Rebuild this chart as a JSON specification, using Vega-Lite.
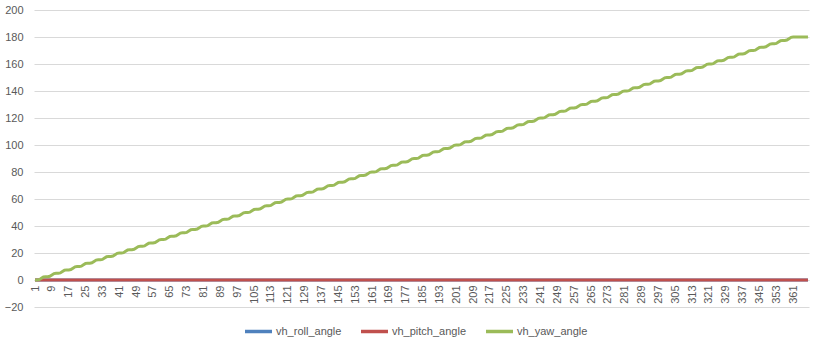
{
"$schema":"https://vega.github.io/schema/vega-lite/v6.json",
"width":775,"height":297,
"autosize":{"type":"none"},
"padding":{"left":34,"top":10,"right":8,"bottom":39},
"background":"white",
"config":{"view":{"stroke":null},"font":"Liberation Sans"},
"data":{"values":[
{"i":1,"r":0,"p":0,"y":0},
{"i":2,"r":0,"p":0,"y":0},{"i":3,"r":0,"p":0,"y":0.25},{"i":4,"r":0,"p":0,"y":1.25},{"i":5,"r":0,"p":0,"y":2.25},{"i":6,"r":0,"p":0,"y":2.5},
{"i":7,"r":0,"p":0,"y":2.5},{"i":8,"r":0,"p":0,"y":2.75},{"i":9,"r":0,"p":0,"y":3.75},{"i":10,"r":0,"p":0,"y":4.75},{"i":11,"r":0,"p":0,"y":5},
{"i":12,"r":0,"p":0,"y":5},{"i":13,"r":0,"p":0,"y":5.25},{"i":14,"r":0,"p":0,"y":6.25},{"i":15,"r":0,"p":0,"y":7.25},{"i":16,"r":0,"p":0,"y":7.5},
{"i":17,"r":0,"p":0,"y":7.5},{"i":18,"r":0,"p":0,"y":7.75},{"i":19,"r":0,"p":0,"y":8.75},{"i":20,"r":0,"p":0,"y":9.75},{"i":21,"r":0,"p":0,"y":10},
{"i":22,"r":0,"p":0,"y":10},{"i":23,"r":0,"p":0,"y":10.25},{"i":24,"r":0,"p":0,"y":11.25},{"i":25,"r":0,"p":0,"y":12.25},{"i":26,"r":0,"p":0,"y":12.5},
{"i":27,"r":0,"p":0,"y":12.5},{"i":28,"r":0,"p":0,"y":12.75},{"i":29,"r":0,"p":0,"y":13.75},{"i":30,"r":0,"p":0,"y":14.75},{"i":31,"r":0,"p":0,"y":15},
{"i":32,"r":0,"p":0,"y":15},{"i":33,"r":0,"p":0,"y":15.25},{"i":34,"r":0,"p":0,"y":16.25},{"i":35,"r":0,"p":0,"y":17.25},{"i":36,"r":0,"p":0,"y":17.5},
{"i":37,"r":0,"p":0,"y":17.5},{"i":38,"r":0,"p":0,"y":17.75},{"i":39,"r":0,"p":0,"y":18.75},{"i":40,"r":0,"p":0,"y":19.75},{"i":41,"r":0,"p":0,"y":20},
{"i":42,"r":0,"p":0,"y":20},{"i":43,"r":0,"p":0,"y":20.25},{"i":44,"r":0,"p":0,"y":21.25},{"i":45,"r":0,"p":0,"y":22.25},{"i":46,"r":0,"p":0,"y":22.5},
{"i":47,"r":0,"p":0,"y":22.5},{"i":48,"r":0,"p":0,"y":22.75},{"i":49,"r":0,"p":0,"y":23.75},{"i":50,"r":0,"p":0,"y":24.75},{"i":51,"r":0,"p":0,"y":25},
{"i":52,"r":0,"p":0,"y":25},{"i":53,"r":0,"p":0,"y":25.25},{"i":54,"r":0,"p":0,"y":26.25},{"i":55,"r":0,"p":0,"y":27.25},{"i":56,"r":0,"p":0,"y":27.5},
{"i":57,"r":0,"p":0,"y":27.5},{"i":58,"r":0,"p":0,"y":27.75},{"i":59,"r":0,"p":0,"y":28.75},{"i":60,"r":0,"p":0,"y":29.75},{"i":61,"r":0,"p":0,"y":30},
{"i":62,"r":0,"p":0,"y":30},{"i":63,"r":0,"p":0,"y":30.25},{"i":64,"r":0,"p":0,"y":31.25},{"i":65,"r":0,"p":0,"y":32.25},{"i":66,"r":0,"p":0,"y":32.5},
{"i":67,"r":0,"p":0,"y":32.5},{"i":68,"r":0,"p":0,"y":32.75},{"i":69,"r":0,"p":0,"y":33.75},{"i":70,"r":0,"p":0,"y":34.75},{"i":71,"r":0,"p":0,"y":35},
{"i":72,"r":0,"p":0,"y":35},{"i":73,"r":0,"p":0,"y":35.25},{"i":74,"r":0,"p":0,"y":36.25},{"i":75,"r":0,"p":0,"y":37.25},{"i":76,"r":0,"p":0,"y":37.5},
{"i":77,"r":0,"p":0,"y":37.5},{"i":78,"r":0,"p":0,"y":37.75},{"i":79,"r":0,"p":0,"y":38.75},{"i":80,"r":0,"p":0,"y":39.75},{"i":81,"r":0,"p":0,"y":40},
{"i":82,"r":0,"p":0,"y":40},{"i":83,"r":0,"p":0,"y":40.25},{"i":84,"r":0,"p":0,"y":41.25},{"i":85,"r":0,"p":0,"y":42.25},{"i":86,"r":0,"p":0,"y":42.5},
{"i":87,"r":0,"p":0,"y":42.5},{"i":88,"r":0,"p":0,"y":42.75},{"i":89,"r":0,"p":0,"y":43.75},{"i":90,"r":0,"p":0,"y":44.75},{"i":91,"r":0,"p":0,"y":45},
{"i":92,"r":0,"p":0,"y":45},{"i":93,"r":0,"p":0,"y":45.25},{"i":94,"r":0,"p":0,"y":46.25},{"i":95,"r":0,"p":0,"y":47.25},{"i":96,"r":0,"p":0,"y":47.5},
{"i":97,"r":0,"p":0,"y":47.5},{"i":98,"r":0,"p":0,"y":47.75},{"i":99,"r":0,"p":0,"y":48.75},{"i":100,"r":0,"p":0,"y":49.75},{"i":101,"r":0,"p":0,"y":50},
{"i":102,"r":0,"p":0,"y":50},{"i":103,"r":0,"p":0,"y":50.25},{"i":104,"r":0,"p":0,"y":51.25},{"i":105,"r":0,"p":0,"y":52.25},{"i":106,"r":0,"p":0,"y":52.5},
{"i":107,"r":0,"p":0,"y":52.5},{"i":108,"r":0,"p":0,"y":52.75},{"i":109,"r":0,"p":0,"y":53.75},{"i":110,"r":0,"p":0,"y":54.75},{"i":111,"r":0,"p":0,"y":55},
{"i":112,"r":0,"p":0,"y":55},{"i":113,"r":0,"p":0,"y":55.25},{"i":114,"r":0,"p":0,"y":56.25},{"i":115,"r":0,"p":0,"y":57.25},{"i":116,"r":0,"p":0,"y":57.5},
{"i":117,"r":0,"p":0,"y":57.5},{"i":118,"r":0,"p":0,"y":57.75},{"i":119,"r":0,"p":0,"y":58.75},{"i":120,"r":0,"p":0,"y":59.75},{"i":121,"r":0,"p":0,"y":60},
{"i":122,"r":0,"p":0,"y":60},{"i":123,"r":0,"p":0,"y":60.25},{"i":124,"r":0,"p":0,"y":61.25},{"i":125,"r":0,"p":0,"y":62.25},{"i":126,"r":0,"p":0,"y":62.5},
{"i":127,"r":0,"p":0,"y":62.5},{"i":128,"r":0,"p":0,"y":62.75},{"i":129,"r":0,"p":0,"y":63.75},{"i":130,"r":0,"p":0,"y":64.75},{"i":131,"r":0,"p":0,"y":65},
{"i":132,"r":0,"p":0,"y":65},{"i":133,"r":0,"p":0,"y":65.25},{"i":134,"r":0,"p":0,"y":66.25},{"i":135,"r":0,"p":0,"y":67.25},{"i":136,"r":0,"p":0,"y":67.5},
{"i":137,"r":0,"p":0,"y":67.5},{"i":138,"r":0,"p":0,"y":67.75},{"i":139,"r":0,"p":0,"y":68.75},{"i":140,"r":0,"p":0,"y":69.75},{"i":141,"r":0,"p":0,"y":70},
{"i":142,"r":0,"p":0,"y":70},{"i":143,"r":0,"p":0,"y":70.25},{"i":144,"r":0,"p":0,"y":71.25},{"i":145,"r":0,"p":0,"y":72.25},{"i":146,"r":0,"p":0,"y":72.5},
{"i":147,"r":0,"p":0,"y":72.5},{"i":148,"r":0,"p":0,"y":72.75},{"i":149,"r":0,"p":0,"y":73.75},{"i":150,"r":0,"p":0,"y":74.75},{"i":151,"r":0,"p":0,"y":75},
{"i":152,"r":0,"p":0,"y":75},{"i":153,"r":0,"p":0,"y":75.25},{"i":154,"r":0,"p":0,"y":76.25},{"i":155,"r":0,"p":0,"y":77.25},{"i":156,"r":0,"p":0,"y":77.5},
{"i":157,"r":0,"p":0,"y":77.5},{"i":158,"r":0,"p":0,"y":77.75},{"i":159,"r":0,"p":0,"y":78.75},{"i":160,"r":0,"p":0,"y":79.75},{"i":161,"r":0,"p":0,"y":80},
{"i":162,"r":0,"p":0,"y":80},{"i":163,"r":0,"p":0,"y":80.25},{"i":164,"r":0,"p":0,"y":81.25},{"i":165,"r":0,"p":0,"y":82.25},{"i":166,"r":0,"p":0,"y":82.5},
{"i":167,"r":0,"p":0,"y":82.5},{"i":168,"r":0,"p":0,"y":82.75},{"i":169,"r":0,"p":0,"y":83.75},{"i":170,"r":0,"p":0,"y":84.75},{"i":171,"r":0,"p":0,"y":85},
{"i":172,"r":0,"p":0,"y":85},{"i":173,"r":0,"p":0,"y":85.25},{"i":174,"r":0,"p":0,"y":86.25},{"i":175,"r":0,"p":0,"y":87.25},{"i":176,"r":0,"p":0,"y":87.5},
{"i":177,"r":0,"p":0,"y":87.5},{"i":178,"r":0,"p":0,"y":87.75},{"i":179,"r":0,"p":0,"y":88.75},{"i":180,"r":0,"p":0,"y":89.75},{"i":181,"r":0,"p":0,"y":90},
{"i":182,"r":0,"p":0,"y":90},{"i":183,"r":0,"p":0,"y":90.25},{"i":184,"r":0,"p":0,"y":91.25},{"i":185,"r":0,"p":0,"y":92.25},{"i":186,"r":0,"p":0,"y":92.5},
{"i":187,"r":0,"p":0,"y":92.5},{"i":188,"r":0,"p":0,"y":92.75},{"i":189,"r":0,"p":0,"y":93.75},{"i":190,"r":0,"p":0,"y":94.75},{"i":191,"r":0,"p":0,"y":95},
{"i":192,"r":0,"p":0,"y":95},{"i":193,"r":0,"p":0,"y":95.25},{"i":194,"r":0,"p":0,"y":96.25},{"i":195,"r":0,"p":0,"y":97.25},{"i":196,"r":0,"p":0,"y":97.5},
{"i":197,"r":0,"p":0,"y":97.5},{"i":198,"r":0,"p":0,"y":97.75},{"i":199,"r":0,"p":0,"y":98.75},{"i":200,"r":0,"p":0,"y":99.75},{"i":201,"r":0,"p":0,"y":100},
{"i":202,"r":0,"p":0,"y":100},{"i":203,"r":0,"p":0,"y":100.25},{"i":204,"r":0,"p":0,"y":101.25},{"i":205,"r":0,"p":0,"y":102.25},{"i":206,"r":0,"p":0,"y":102.5},
{"i":207,"r":0,"p":0,"y":102.5},{"i":208,"r":0,"p":0,"y":102.75},{"i":209,"r":0,"p":0,"y":103.75},{"i":210,"r":0,"p":0,"y":104.75},{"i":211,"r":0,"p":0,"y":105},
{"i":212,"r":0,"p":0,"y":105},{"i":213,"r":0,"p":0,"y":105.25},{"i":214,"r":0,"p":0,"y":106.25},{"i":215,"r":0,"p":0,"y":107.25},{"i":216,"r":0,"p":0,"y":107.5},
{"i":217,"r":0,"p":0,"y":107.5},{"i":218,"r":0,"p":0,"y":107.75},{"i":219,"r":0,"p":0,"y":108.75},{"i":220,"r":0,"p":0,"y":109.75},{"i":221,"r":0,"p":0,"y":110},
{"i":222,"r":0,"p":0,"y":110},{"i":223,"r":0,"p":0,"y":110.25},{"i":224,"r":0,"p":0,"y":111.25},{"i":225,"r":0,"p":0,"y":112.25},{"i":226,"r":0,"p":0,"y":112.5},
{"i":227,"r":0,"p":0,"y":112.5},{"i":228,"r":0,"p":0,"y":112.75},{"i":229,"r":0,"p":0,"y":113.75},{"i":230,"r":0,"p":0,"y":114.75},{"i":231,"r":0,"p":0,"y":115},
{"i":232,"r":0,"p":0,"y":115},{"i":233,"r":0,"p":0,"y":115.25},{"i":234,"r":0,"p":0,"y":116.25},{"i":235,"r":0,"p":0,"y":117.25},{"i":236,"r":0,"p":0,"y":117.5},
{"i":237,"r":0,"p":0,"y":117.5},{"i":238,"r":0,"p":0,"y":117.75},{"i":239,"r":0,"p":0,"y":118.75},{"i":240,"r":0,"p":0,"y":119.75},{"i":241,"r":0,"p":0,"y":120},
{"i":242,"r":0,"p":0,"y":120},{"i":243,"r":0,"p":0,"y":120.25},{"i":244,"r":0,"p":0,"y":121.25},{"i":245,"r":0,"p":0,"y":122.25},{"i":246,"r":0,"p":0,"y":122.5},
{"i":247,"r":0,"p":0,"y":122.5},{"i":248,"r":0,"p":0,"y":122.75},{"i":249,"r":0,"p":0,"y":123.75},{"i":250,"r":0,"p":0,"y":124.75},{"i":251,"r":0,"p":0,"y":125},
{"i":252,"r":0,"p":0,"y":125},{"i":253,"r":0,"p":0,"y":125.25},{"i":254,"r":0,"p":0,"y":126.25},{"i":255,"r":0,"p":0,"y":127.25},{"i":256,"r":0,"p":0,"y":127.5},
{"i":257,"r":0,"p":0,"y":127.5},{"i":258,"r":0,"p":0,"y":127.75},{"i":259,"r":0,"p":0,"y":128.75},{"i":260,"r":0,"p":0,"y":129.75},{"i":261,"r":0,"p":0,"y":130},
{"i":262,"r":0,"p":0,"y":130},{"i":263,"r":0,"p":0,"y":130.25},{"i":264,"r":0,"p":0,"y":131.25},{"i":265,"r":0,"p":0,"y":132.25},{"i":266,"r":0,"p":0,"y":132.5},
{"i":267,"r":0,"p":0,"y":132.5},{"i":268,"r":0,"p":0,"y":132.75},{"i":269,"r":0,"p":0,"y":133.75},{"i":270,"r":0,"p":0,"y":134.75},{"i":271,"r":0,"p":0,"y":135},
{"i":272,"r":0,"p":0,"y":135},{"i":273,"r":0,"p":0,"y":135.25},{"i":274,"r":0,"p":0,"y":136.25},{"i":275,"r":0,"p":0,"y":137.25},{"i":276,"r":0,"p":0,"y":137.5},
{"i":277,"r":0,"p":0,"y":137.5},{"i":278,"r":0,"p":0,"y":137.75},{"i":279,"r":0,"p":0,"y":138.75},{"i":280,"r":0,"p":0,"y":139.75},{"i":281,"r":0,"p":0,"y":140},
{"i":282,"r":0,"p":0,"y":140},{"i":283,"r":0,"p":0,"y":140.25},{"i":284,"r":0,"p":0,"y":141.25},{"i":285,"r":0,"p":0,"y":142.25},{"i":286,"r":0,"p":0,"y":142.5},
{"i":287,"r":0,"p":0,"y":142.5},{"i":288,"r":0,"p":0,"y":142.75},{"i":289,"r":0,"p":0,"y":143.75},{"i":290,"r":0,"p":0,"y":144.75},{"i":291,"r":0,"p":0,"y":145},
{"i":292,"r":0,"p":0,"y":145},{"i":293,"r":0,"p":0,"y":145.25},{"i":294,"r":0,"p":0,"y":146.25},{"i":295,"r":0,"p":0,"y":147.25},{"i":296,"r":0,"p":0,"y":147.5},
{"i":297,"r":0,"p":0,"y":147.5},{"i":298,"r":0,"p":0,"y":147.75},{"i":299,"r":0,"p":0,"y":148.75},{"i":300,"r":0,"p":0,"y":149.75},{"i":301,"r":0,"p":0,"y":150},
{"i":302,"r":0,"p":0,"y":150},{"i":303,"r":0,"p":0,"y":150.25},{"i":304,"r":0,"p":0,"y":151.25},{"i":305,"r":0,"p":0,"y":152.25},{"i":306,"r":0,"p":0,"y":152.5},
{"i":307,"r":0,"p":0,"y":152.5},{"i":308,"r":0,"p":0,"y":152.75},{"i":309,"r":0,"p":0,"y":153.75},{"i":310,"r":0,"p":0,"y":154.75},{"i":311,"r":0,"p":0,"y":155},
{"i":312,"r":0,"p":0,"y":155},{"i":313,"r":0,"p":0,"y":155.25},{"i":314,"r":0,"p":0,"y":156.25},{"i":315,"r":0,"p":0,"y":157.25},{"i":316,"r":0,"p":0,"y":157.5},
{"i":317,"r":0,"p":0,"y":157.5},{"i":318,"r":0,"p":0,"y":157.75},{"i":319,"r":0,"p":0,"y":158.75},{"i":320,"r":0,"p":0,"y":159.75},{"i":321,"r":0,"p":0,"y":160},
{"i":322,"r":0,"p":0,"y":160},{"i":323,"r":0,"p":0,"y":160.25},{"i":324,"r":0,"p":0,"y":161.25},{"i":325,"r":0,"p":0,"y":162.25},{"i":326,"r":0,"p":0,"y":162.5},
{"i":327,"r":0,"p":0,"y":162.5},{"i":328,"r":0,"p":0,"y":162.75},{"i":329,"r":0,"p":0,"y":163.75},{"i":330,"r":0,"p":0,"y":164.75},{"i":331,"r":0,"p":0,"y":165},
{"i":332,"r":0,"p":0,"y":165},{"i":333,"r":0,"p":0,"y":165.25},{"i":334,"r":0,"p":0,"y":166.25},{"i":335,"r":0,"p":0,"y":167.25},{"i":336,"r":0,"p":0,"y":167.5},
{"i":337,"r":0,"p":0,"y":167.5},{"i":338,"r":0,"p":0,"y":167.75},{"i":339,"r":0,"p":0,"y":168.75},{"i":340,"r":0,"p":0,"y":169.75},{"i":341,"r":0,"p":0,"y":170},
{"i":342,"r":0,"p":0,"y":170},{"i":343,"r":0,"p":0,"y":170.25},{"i":344,"r":0,"p":0,"y":171.25},{"i":345,"r":0,"p":0,"y":172.25},{"i":346,"r":0,"p":0,"y":172.5},
{"i":347,"r":0,"p":0,"y":172.5},{"i":348,"r":0,"p":0,"y":172.75},{"i":349,"r":0,"p":0,"y":173.75},{"i":350,"r":0,"p":0,"y":174.75},{"i":351,"r":0,"p":0,"y":175},
{"i":352,"r":0,"p":0,"y":175},{"i":353,"r":0,"p":0,"y":175.25},{"i":354,"r":0,"p":0,"y":176.25},{"i":355,"r":0,"p":0,"y":177.25},{"i":356,"r":0,"p":0,"y":177.5},
{"i":357,"r":0,"p":0,"y":177.5},{"i":358,"r":0,"p":0,"y":177.75},{"i":359,"r":0,"p":0,"y":178.75},{"i":360,"r":0,"p":0,"y":179.75},{"i":361,"r":0,"p":0,"y":180},
{"i":362,"r":0,"p":0,"y":180},{"i":363,"r":0,"p":0,"y":180},{"i":364,"r":0,"p":0,"y":180},{"i":365,"r":0,"p":0,"y":180},{"i":366,"r":0,"p":0,"y":180},{"i":367,"r":0,"p":0,"y":180},{"i":368,"r":0,"p":0,"y":180}
]},
"transform":[{"fold":["r","p","y"],"as":["s","v"]}],
"mark":{"type":"line","strokeWidth":3,"clip":true},
"encoding":{
"x":{"field":"i","type":"quantitative","scale":{"domain":[0.5,368.5],"nice":false,"zero":false},
"axis":{"title":null,"values":[1,9,17,25,33,41,49,57,65,73,81,89,97,105,113,121,129,137,145,153,161,169,177,185,193,201,209,217,225,233,241,249,257,265,273,281,289,297,305,313,321,329,337,345,353,361],
"labelAngle":-90,"labelAlign":"right","labelBaseline":"middle","labelPadding":5,"labelFontSize":11,"labelColor":"#595959","labelOverlap":false,"labelFlush":false,
"ticks":false,"grid":false,"domain":true,"domainColor":"#D9D9D9","offset":-27}},
"y":{"field":"v","type":"quantitative","scale":{"domain":[-20,200],"nice":false},
"axis":{"title":null,"values":[-20,0,20,40,60,80,100,120,140,160,180,200],"ticks":false,"domain":false,"grid":true,"gridColor":"#D9D9D9","gridWidth":1,
"labelPadding":11,"labelFontSize":11,"labelColor":"#595959"}},
"color":{"field":"s","type":"nominal","sort":["r","p","y"],
"scale":{"domain":["r","p","y"],"range":["#4F81BD","#C0504D","#9BBB59"]},
"legend":{"title":null,"orient":"none","legendX":209,"legendY":306,"direction":"horizontal","symbolType":"stroke","symbolSize":729,"symbolStrokeWidth":3.5,
"labelFontSize":11,"labelColor":"#595959","labelOffset":2,"columnPadding":12,"gridAlign":"none",
"labelExpr":"datum.label == 'r' ? 'vh_roll_angle' : (datum.label == 'p' ? 'vh_pitch_angle' : 'vh_yaw_angle')"}}
}
}
